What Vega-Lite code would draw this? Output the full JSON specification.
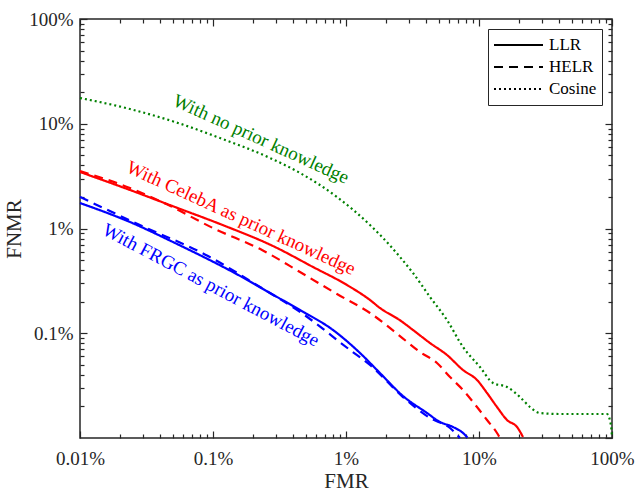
{
"$schema": "https://vega.github.io/schema/vega-lite/v6.json",
"width": 532, "height": 419,
"autosize": "none",
"padding": {"left": 80, "top": 19, "right": 25, "bottom": 56},
"background": "white",
"config": {
  "font": "Liberation Serif",
  "view": {"stroke": "#262626", "strokeWidth": 1.5},
  "axis": {"grid": false, "domain": false, "labelFont": "Liberation Serif", "labelFontSize": 19, "labelColor": "#262626", "titleFont": "Liberation Serif", "titleFontSize": 21, "titleFontWeight": "normal", "titleColor": "#262626", "tickColor": "#262626", "tickWidth": 1.2, "labelFlush": false, "labelOverlap": false}
},
"resolve": {"axis": {"x": "independent", "y": "independent"}},
"layer": [
  {
    "data": {"values": [
      {"prior":"None","method":"Cosine","fmr":0.01,"fnmr":17.61},
      {"prior":"None","method":"Cosine","fmr":0.02376,"fnmr":13.83},
      {"prior":"None","method":"Cosine","fmr":0.05179,"fnmr":10.39},
      {"prior":"None","method":"Cosine","fmr":0.1129,"fnmr":7.31},
      {"prior":"None","method":"Cosine","fmr":0.2683,"fnmr":4.71},
      {"prior":"None","method":"Cosine","fmr":0.4509,"fnmr":3.39},
      {"prior":"None","method":"Cosine","fmr":0.855,"fnmr":2.0},
      {"prior":"None","method":"Cosine","fmr":1.515,"fnmr":1.08},
      {"prior":"None","method":"Cosine","fmr":1.801,"fnmr":0.87},
      {"prior":"None","method":"Cosine","fmr":2.547,"fnmr":0.5342},
      {"prior":"None","method":"Cosine","fmr":3.189,"fnmr":0.376},
      {"prior":"None","method":"Cosine","fmr":4.281,"fnmr":0.2218},
      {"prior":"None","method":"Cosine","fmr":5.745,"fnmr":0.1338},
      {"prior":"None","method":"Cosine","fmr":7.58,"fnmr":0.0739},
      {"prior":"None","method":"Cosine","fmr":10.17,"fnmr":0.0476},
      {"prior":"None","method":"Cosine","fmr":12.74,"fnmr":0.0335},
      {"prior":"None","method":"Cosine","fmr":16.24,"fnmr":0.0307},
      {"prior":"None","method":"Cosine","fmr":20.34,"fnmr":0.0246},
      {"prior":"None","method":"Cosine","fmr":24.18,"fnmr":0.01976},
      {"prior":"None","method":"Cosine","fmr":28.75,"fnmr":0.01733},
      {"prior":"None","method":"Cosine","fmr":40.64,"fnmr":0.01695},
      {"prior":"None","method":"Cosine","fmr":91.6,"fnmr":0.01695},
      {"prior":"None","method":"Cosine","fmr":98.2,"fnmr":0.0133},
      {"prior":"None","method":"Cosine","fmr":100,"fnmr":0.0102},

      {"prior":"CelebA","method":"LLR","fmr":0.01,"fnmr":3.463},
      {"prior":"CelebA","method":"LLR","fmr":0.02376,"fnmr":2.331},
      {"prior":"CelebA","method":"LLR","fmr":0.05179,"fnmr":1.604},
      {"prior":"CelebA","method":"LLR","fmr":0.1129,"fnmr":1.104},
      {"prior":"CelebA","method":"LLR","fmr":0.2925,"fnmr":0.666},
      {"prior":"CelebA","method":"LLR","fmr":0.5648,"fnmr":0.429},
      {"prior":"CelebA","method":"LLR","fmr":1.017,"fnmr":0.2888},
      {"prior":"CelebA","method":"LLR","fmr":1.515,"fnmr":0.2077},
      {"prior":"CelebA","method":"LLR","fmr":1.801,"fnmr":0.1742},
      {"prior":"CelebA","method":"LLR","fmr":2.547,"fnmr":0.133},
      {"prior":"CelebA","method":"LLR","fmr":3.189,"fnmr":0.1074},
      {"prior":"CelebA","method":"LLR","fmr":4.281,"fnmr":0.0807},
      {"prior":"CelebA","method":"LLR","fmr":5.745,"fnmr":0.062},
      {"prior":"CelebA","method":"LLR","fmr":7.58,"fnmr":0.0446},
      {"prior":"CelebA","method":"LLR","fmr":9.66,"fnmr":0.0358},
      {"prior":"CelebA","method":"LLR","fmr":11.49,"fnmr":0.0269},
      {"prior":"CelebA","method":"LLR","fmr":13.66,"fnmr":0.01976},
      {"prior":"CelebA","method":"LLR","fmr":16.24,"fnmr":0.01485},
      {"prior":"CelebA","method":"LLR","fmr":19.31,"fnmr":0.01274},
      {"prior":"CelebA","method":"LLR","fmr":21.42,"fnmr":0.01022},

      {"prior":"CelebA","method":"HELR","fmr":0.01,"fnmr":3.538},
      {"prior":"CelebA","method":"HELR","fmr":0.02376,"fnmr":2.436},
      {"prior":"CelebA","method":"HELR","fmr":0.04135,"fnmr":1.791},
      {"prior":"CelebA","method":"HELR","fmr":0.1035,"fnmr":0.989},
      {"prior":"CelebA","method":"HELR","fmr":0.2336,"fnmr":0.6233},
      {"prior":"CelebA","method":"HELR","fmr":0.4509,"fnmr":0.3843},
      {"prior":"CelebA","method":"HELR","fmr":0.8555,"fnmr":0.2369},
      {"prior":"CelebA","method":"HELR","fmr":1.515,"fnmr":0.1561},
      {"prior":"CelebA","method":"HELR","fmr":2.683,"fnmr":0.089},
      {"prior":"CelebA","method":"HELR","fmr":3.6,"fnmr":0.0662},
      {"prior":"CelebA","method":"HELR","fmr":4.833,"fnmr":0.052},
      {"prior":"CelebA","method":"HELR","fmr":6.053,"fnmr":0.0382},
      {"prior":"CelebA","method":"HELR","fmr":7.58,"fnmr":0.0287},
      {"prior":"CelebA","method":"HELR","fmr":9.66,"fnmr":0.01976},
      {"prior":"CelebA","method":"HELR","fmr":11.49,"fnmr":0.01485},
      {"prior":"CelebA","method":"HELR","fmr":13.66,"fnmr":0.01116},
      {"prior":"CelebA","method":"HELR","fmr":14.38,"fnmr":0.01},

      {"prior":"FRGC","method":"LLR","fmr":0.01,"fnmr":1.751},
      {"prior":"FRGC","method":"LLR","fmr":0.02376,"fnmr":1.153},
      {"prior":"FRGC","method":"LLR","fmr":0.05179,"fnmr":0.7271},
      {"prior":"FRGC","method":"LLR","fmr":0.1652,"fnmr":0.3443},
      {"prior":"FRGC","method":"LLR","fmr":0.2683,"fnmr":0.2422},
      {"prior":"FRGC","method":"LLR","fmr":0.4509,"fnmr":0.1667},
      {"prior":"FRGC","method":"LLR","fmr":0.7985,"fnmr":0.1074},
      {"prior":"FRGC","method":"LLR","fmr":1.274,"fnmr":0.0648},
      {"prior":"FRGC","method":"LLR","fmr":1.801,"fnmr":0.0417},
      {"prior":"FRGC","method":"LLR","fmr":2.683,"fnmr":0.02518},
      {"prior":"FRGC","method":"LLR","fmr":4.064,"fnmr":0.01733},
      {"prior":"FRGC","method":"LLR","fmr":5.091,"fnmr":0.01421},
      {"prior":"FRGC","method":"LLR","fmr":6.376,"fnmr":0.01274},
      {"prior":"FRGC","method":"LLR","fmr":7.58,"fnmr":0.01116},
      {"prior":"FRGC","method":"LLR","fmr":8.2,"fnmr":0.0101},

      {"prior":"FRGC","method":"HELR","fmr":0.01,"fnmr":1.999},
      {"prior":"FRGC","method":"HELR","fmr":0.02925,"fnmr":1.0566},
      {"prior":"FRGC","method":"HELR","fmr":0.09171,"fnmr":0.5464},
      {"prior":"FRGC","method":"HELR","fmr":0.2257,"fnmr":0.2764},
      {"prior":"FRGC","method":"HELR","fmr":0.4751,"fnmr":0.1527},
      {"prior":"FRGC","method":"HELR","fmr":1.072,"fnmr":0.0692},
      {"prior":"FRGC","method":"HELR","fmr":1.515,"fnmr":0.0498},
      {"prior":"FRGC","method":"HELR","fmr":2.683,"fnmr":0.0246},
      {"prior":"FRGC","method":"HELR","fmr":4.281,"fnmr":0.01552},
      {"prior":"FRGC","method":"HELR","fmr":6.053,"fnmr":0.01246},
      {"prior":"FRGC","method":"HELR","fmr":7.197,"fnmr":0.01}
    ]},
    "mark": {"type": "line", "strokeWidth": 2.2, "strokeCap": "butt", "interpolate": "monotone"},
    "encoding": {
      "x": {"field": "fmr", "type": "quantitative", "scale": {"type": "log", "domain": [0.01, 100], "nice": false},
            "axis": {"orient": "bottom", "values": [0.01, 0.1, 1, 10, 100], "labelExpr": "datum.value + '%'", "tickSize": -7, "labelPadding": 18, "title": "FMR", "titlePadding": 2}},
      "y": {"field": "fnmr", "type": "quantitative", "scale": {"type": "log", "domain": [0.01, 100], "nice": false},
            "axis": {"orient": "left", "values": [0.1, 1, 10, 100], "labelExpr": "datum.value + '%'", "tickSize": -7, "labelPadding": 14, "title": "FNMR", "titlePadding": 4}},
      "color": {"field": "prior", "type": "nominal", "scale": {"domain": ["FRGC", "CelebA", "None"], "range": ["#0000ff", "#ff0000", "#008000"]}, "legend": null},
      "strokeDash": {"field": "method", "type": "nominal", "scale": {"domain": ["LLR", "HELR", "Cosine"], "range": [[1, 0], [9, 6], [2, 3]]},
            "legend": {"title": null, "orient": "top-right", "offset": 10, "symbolType": "stroke", "symbolSize": 2401, "symbolStrokeWidth": 2, "symbolStrokeColor": "black", "labelFontSize": 17, "labelFont": "Liberation Serif", "labelColor": "black", "labelOffset": 5, "clipHeight": 22, "padding": 5, "strokeColor": "#262626", "fillColor": "white", "rowPadding": 0}}
    }
  },
  {
    "data": {"values": [{"x": 0.2296, "y": 7.15, "label": "With no prior knowledge"}]},
    "mark": {"type": "text", "angle": 24.5, "fontSize": 19, "font": "Liberation Serif", "color": "#008000", "align": "center", "baseline": "middle"},
    "encoding": {
      "x": {"field": "x", "type": "quantitative", "scale": {"type": "log", "domain": [0.01, 100], "nice": false},
            "axis": {"orient": "bottom", "values": [0.02,0.03,0.04,0.05,0.06,0.07,0.08,0.09,0.2,0.3,0.4,0.5,0.6,0.7,0.8,0.9,2,3,4,5,6,7,8,9,20,30,40,50,60,70,80,90], "labels": false, "tickSize": -4, "title": null}},
      "y": {"field": "y", "type": "quantitative", "scale": {"type": "log", "domain": [0.01, 100], "nice": false},
            "axis": {"orient": "left", "values": [0.02,0.03,0.04,0.05,0.06,0.07,0.08,0.09,0.2,0.3,0.4,0.5,0.6,0.7,0.8,0.9,2,3,4,5,6,7,8,9,20,30,40,50,60,70,80,90], "labels": false, "tickSize": -4, "title": null}},
      "text": {"field": "label", "type": "nominal"}
    }
  },
  {
    "data": {"values": [{"x": 0.1624, "y": 1.26, "label": "With CelebA as prior knowledge"}]},
    "mark": {"type": "text", "angle": 24.6, "fontSize": 19, "font": "Liberation Serif", "color": "#ff0000", "align": "center", "baseline": "middle"},
    "encoding": {
      "x": {"field": "x", "type": "quantitative", "scale": {"type": "log", "domain": [0.01, 100], "nice": false},
            "axis": {"orient": "top", "values": [0.01, 0.1, 1, 10, 100], "labels": false, "tickSize": -7, "title": null}},
      "y": {"field": "y", "type": "quantitative", "scale": {"type": "log", "domain": [0.01, 100], "nice": false},
            "axis": {"orient": "right", "values": [0.01, 0.1, 1, 10, 100], "labels": false, "tickSize": -7, "title": null}},
      "text": {"field": "label", "type": "nominal"}
    }
  },
  {
    "data": {"values": [{"x": 0.0966, "y": 0.289, "label": "With FRGC as prior knowledge"}]},
    "mark": {"type": "text", "angle": 27.9, "fontSize": 19, "font": "Liberation Serif", "color": "#0000ff", "align": "center", "baseline": "middle"},
    "encoding": {
      "x": {"field": "x", "type": "quantitative", "scale": {"type": "log", "domain": [0.01, 100], "nice": false},
            "axis": {"orient": "top", "values": [0.02,0.03,0.04,0.05,0.06,0.07,0.08,0.09,0.2,0.3,0.4,0.5,0.6,0.7,0.8,0.9,2,3,4,5,6,7,8,9,20,30,40,50,60,70,80,90], "labels": false, "tickSize": -4, "title": null}},
      "y": {"field": "y", "type": "quantitative", "scale": {"type": "log", "domain": [0.01, 100], "nice": false},
            "axis": {"orient": "right", "values": [0.02,0.03,0.04,0.05,0.06,0.07,0.08,0.09,0.2,0.3,0.4,0.5,0.6,0.7,0.8,0.9,2,3,4,5,6,7,8,9,20,30,40,50,60,70,80,90], "labels": false, "tickSize": -4, "title": null}},
      "text": {"field": "label", "type": "nominal"}
    }
  }
]
}
